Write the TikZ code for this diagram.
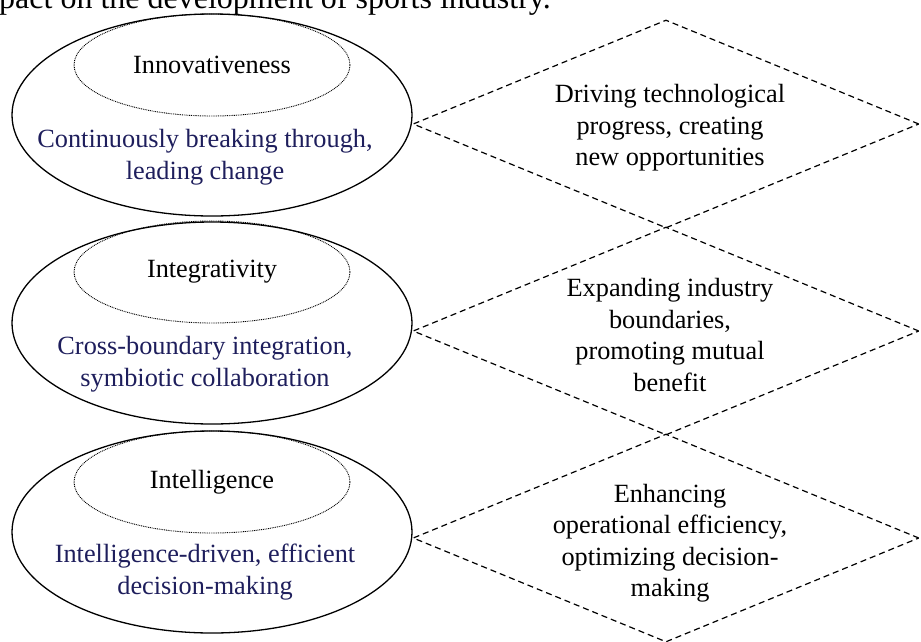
\documentclass[tikz,border=0pt]{standalone}
\usepackage{fontspec}
\setmainfont{Liberation Serif}
\usetikzlibrary{shapes.geometric}
\definecolor{navyink}{RGB}{30,30,92}
\begin{document}
\begin{tikzpicture}[x=1pt,y=-1pt,
  outerell/.style={ellipse, draw, line width=1.3pt, minimum width=400pt, minimum height=202pt, inner sep=0pt},
  innerell/.style={ellipse, draw, line width=0.9pt, dash pattern=on 0.9pt off 0.9pt, minimum width=276pt, minimum height=102pt, inner sep=0pt},
  rhomb/.style={diamond, draw, line width=1.2pt, dash pattern=on 6pt off 4pt, minimum width=506pt, minimum height=208pt, inner sep=0pt},
  txt/.style={font=\fontsize{26.3}{31.5}\selectfont, align=center, inner sep=0pt},
  desc/.style={txt, text=navyink}
]
\useasboundingbox (0,0) rectangle (921,641);
\begin{scope}
\clip (0,0) rectangle (921,641);

% caption line running above the figure
\node[font=\fontsize{32}{38}\selectfont, inner sep=0pt, anchor=base west] (caption) at (-1,8.5) {pact on the development of sports industry.};

% three feature ellipses, each with a dotted title ellipse inside
\node[outerell] (e1) at (212,115) {};
\node[innerell] (i1) at (212,65) {};
\node[txt] (t1) at (i1.center) {Innovativeness};
\node[desc] (d1) at (205,157) {Continuously breaking through,\\leading change};

\node[outerell] (e2) at (212,323) {};
\node[innerell] (i2) at (212,272) {};
\node[txt] (t2) at (i2.center) {Integrativity};
\node[desc] (d2) at (205,364) {Cross-boundary integration,\\symbiotic collaboration};

\node[outerell] (e3) at (212,532) {};
\node[innerell] (i3) at (212,482) {};
\node[txt] (t3) at (i3.center) {Intelligence};
\node[desc] (d3) at (205,572) {Intelligence-driven, efficient\\decision-making};

% dashed diamonds with the resulting effects
\node[rhomb] (r1) at (666,124) {};
\node[txt] (k1) at (670,128) {Driving technological\\progress, creating\\new opportunities};

\node[rhomb] (r2) at (666,331) {};
\node[txt] (k2) at (670,335) {Expanding industry\\boundaries,\\promoting mutual\\benefit};

\node[rhomb] (r3) at (666,538) {};
\node[txt] (k3) at (670,543) {Enhancing\\operational efficiency,\\optimizing decision-\\making};
\end{scope}
\end{tikzpicture}
\end{document}
